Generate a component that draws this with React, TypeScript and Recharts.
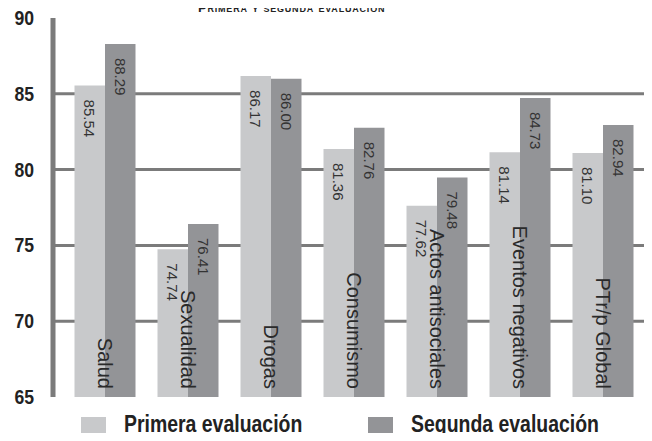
import { BarChart, Bar, XAxis, YAxis, CartesianGrid, Legend, LabelList } from "recharts";

const categories = [
  "Salud",
  "Sexualidad",
  "Drogas",
  "Consumismo",
  "Actos antisociales",
  "Eventos negativos",
  "PTr/p Global",
];
const primera = [85.54, 74.74, 86.17, 81.36, 77.62, 81.14, 81.1];
const segunda = [88.29, 76.41, 86.0, 82.76, 79.48, 84.73, 82.94];
const yTicks = [65, 70, 75, 80, 85, 90];
const gridValues = [70, 75, 80, 85];

const data = categories.map((name, i) => ({
  name,
  primera: primera[i],
  segunda: segunda[i],
}));

const AXIS = "#7b7b7b";
const SANS = "'Liberation Sans', Arial, sans-serif";

function ValueLabel(props: any) {
  const { x, y, width, value } = props;
  const cx = x + width / 2;
  const ty = y + 14;
  return (
    <text
      x={cx}
      y={ty}
      transform={`rotate(90, ${cx}, ${ty})`}
      textAnchor="start"
      dominantBaseline="central"
      fontFamily={SANS}
      fontSize={15}
      fill="#333"
    >
      {Number(value).toFixed(2)}
    </text>
  );
}

function CategoryLabel(props: any) {
  const { x, value } = props;
  const ty = 389;
  return (
    <text
      x={x}
      y={ty}
      transform={`rotate(90, ${x}, ${ty})`}
      textAnchor="end"
      dominantBaseline="central"
      fontFamily={SANS}
      fontSize={20}
      fill="#2a2a2a"
    >
      {value}
    </text>
  );
}

// condensed bold tick, like the original's narrow font
function YTick(props: any) {
  const { y, payload } = props;
  return (
    <g transform={`translate(34, ${y}) scale(0.88, 1)`}>
      <text
        x={0}
        y={0}
        textAnchor="end"
        dominantBaseline="central"
        fontFamily={SANS}
        fontWeight="bold"
        fontSize={20}
        fill="#222"
      >
        {payload.value}
      </text>
    </g>
  );
}

const legendLeft = [81, 368];

function LegendContent(props: any) {
  const { payload } = props;
  return (
    <div style={{ position: "relative", width: 652, height: 44 }}>
      {(payload || []).map((entry: any, i: number) => (
        <div key={i}>
          <div
            style={{
              position: "absolute",
              left: legendLeft[i],
              top: 20,
              width: 25,
              height: 20,
              background: entry.color,
            }}
          />
          <span
            style={{
              position: "absolute",
              left: legendLeft[i] + 43,
              top: 15,
              fontFamily: SANS,
              fontWeight: "bold",
              fontSize: 24,
              color: "#222",
              lineHeight: "24px",
              transform: "scaleX(0.81)",
              transformOrigin: "left center",
              whiteSpace: "nowrap",
            }}
          >
            {entry.value}
          </span>
        </div>
      ))}
    </div>
  );
}

export default function App() {
  return (
    <div style={{ position: "relative", width: 652, height: 441, margin: -8, background: "#fff", overflow: "hidden" }}>
      <div
        style={{
          position: "absolute",
          left: 198,
          top: 1,
          fontFamily: SANS,
          fontWeight: "bold",
          fontSize: 13,
          lineHeight: "14px",
          fontVariant: "small-caps",
          color: "#222",
          whiteSpace: "nowrap",
          letterSpacing: 0.8,
          zIndex: 2,
        }}
      >
        Primera y segunda evaluación
      </div>
      <BarChart
        width={652}
        height={441}
        data={data}
        margin={{ top: 18, right: 0, left: 0, bottom: 0 }}
        barGap={0}
        barSize={30.5}
      >
        <CartesianGrid
          vertical={false}
          horizontalValues={gridValues}
          stroke={AXIS}
          strokeWidth={3}
        />
        <XAxis
          dataKey="name"
          tick={false}
          tickLine={false}
          height={0}
          padding={{ left: 10.5, right: 7.5 }}
          axisLine={{ stroke: AXIS, strokeWidth: 4 }}
        />
        <YAxis
          width={53}
          domain={[65, 90]}
          ticks={yTicks}
          interval={0}
          allowDataOverflow
          tickLine={false}
          axisLine={{ stroke: AXIS, strokeWidth: 5 }}
          tick={<YTick />}
        />
        <Legend
          verticalAlign="bottom"
          height={44}
          content={<LegendContent />}
          wrapperStyle={{ left: 0, bottom: 0, width: 652 }}
        />
        <Bar dataKey="primera" name="Primera evaluación" fill="#c8c9cb" isAnimationActive={false}>
          <LabelList dataKey="primera" content={<ValueLabel />} />
        </Bar>
        <Bar dataKey="segunda" name="Segunda evaluación" fill="#939497" isAnimationActive={false}>
          <LabelList dataKey="segunda" content={<ValueLabel />} />
          <LabelList dataKey="name" content={<CategoryLabel />} />
        </Bar>
      </BarChart>
    </div>
  );
}
